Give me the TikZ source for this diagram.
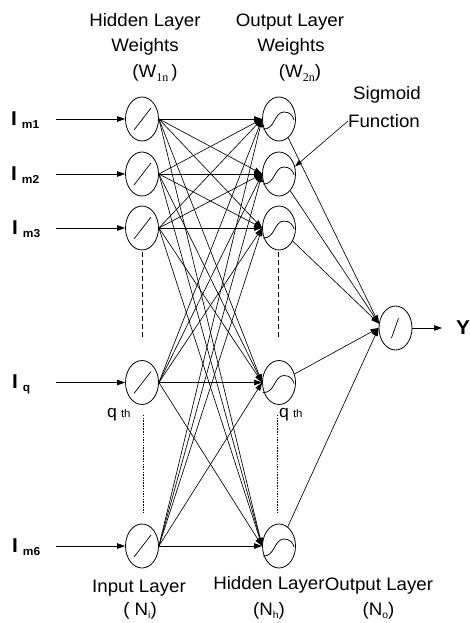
\documentclass[tikz,border=0pt]{standalone}
\usepackage{fontspec}
\setmainfont{Liberation Sans}[FakeStretch=1.04]
\newfontfamily\subserif{Liberation Serif}
\usetikzlibrary{shapes.geometric,arrows.meta}

\tikzset{
  neuron/.style={ellipse,draw,line width=0.8pt,minimum width=33pt,minimum height=44pt,inner sep=0pt},
  link/.style={line width=0.65pt,-{Triangle[length=8pt,width=5.5pt]}},
  lbl/.style={inner sep=0pt,anchor=base,font=\fontsize{18}{18}\selectfont},
  inlbl/.style={inner sep=0pt,anchor=base west},
  upgap/.style={line width=0.6pt,dash pattern=on 5pt off 3pt},
  lowgap/.style={line width=0.45pt,dash pattern=on 1.5pt off 1.2pt},
  inslash/.pic={\draw[line width=0.7pt] (-8,11) -- (9,-11);},
  outslash/.pic={\draw[line width=0.7pt] (-4,10) -- (3,-10);},
  sigmark/.pic={\draw[line width=0.75pt] (-16,10) .. controls (-4,11) and (-5,-7) .. (5,-7) .. controls (11,-7) and (14,-3) .. (15,1);},
}
\newcommand{\inlabel}[1]{{\fontsize{20}{20}\selectfont\bfseries I}\hspace{5pt}\raisebox{-3pt}{\fontsize{11.5}{11.5}\selectfont\bfseries #1}}
\newcommand{\qth}{{\fontsize{17}{17}\selectfont q}\hspace{4pt}{\fontsize{11}{11}\selectfont th}}

\begin{document}
\begin{tikzpicture}[x=1pt,y=-1pt]
\useasboundingbox (0,0) rectangle (470,623);

% neurons of the input and hidden layers
\foreach \n/\y in {1/119,2/174,3/228,q/382.5,6/546}{
  \node[neuron] (i\n) at (142,\y) {};
  \node[neuron] (h\n) at (279,\y) {};
  \pic at (i\n) {inslash};
  \pic at (h\n) {sigmark};
  \coordinate (s\n) at (56,\y);
  \draw[link] (s\n) -- (i\n.west);
}
% output neuron
\node[neuron] (o) at (395.5,328) {};
\pic at (o) {outslash};

% input -> hidden weights
\foreach \a in {1,2,3,q,6}
  \foreach \b in {1,2,3,q,6}
    \draw[link] (i\a.east) -- (h\b.west);

% hidden -> output weights
\foreach \b in {1,2,3}
  \draw[link] (h\b) -- (o.165);
\foreach \b in {q,6}
  \draw[link] (h\b) -- (o.west);

% network output
\node[inner sep=0pt,anchor=base west,font=\fontsize{20}{20}\selectfont\bfseries] (Y) at (456,334) {Y};
\coordinate (yend) at (442,328);
\draw[link] (o.east) -- (yend);

% elided neurons
\draw[upgap] ([yshift=-2pt]i3.south) -- ([yshift=22pt]iq.north);
\draw[upgap] ([xshift=-1pt,yshift=-2pt]h3.south) -- ([xshift=-1pt,yshift=22pt]hq.north);
\draw[lowgap] ([xshift=1pt,yshift=-10pt]iq.south) -- ([xshift=1pt,yshift=11pt]i6.north);
\draw[lowgap] ([xshift=-2pt,yshift=-10pt]hq.south) -- ([xshift=-2pt,yshift=11pt]h6.north);

% input labels
\node[inlbl] (l1) at (11,125) {\inlabel{m1}};
\node[inlbl] (l2) at (11,180) {\inlabel{m2}};
\node[inlbl] (l3) at (12,234) {\inlabel{m3}};
\node[inlbl] (lq) at (12,388) {\inlabel{q}};
\node[inlbl] (l6) at (12,552) {\inlabel{m6}};

% q-th neuron marks
\node[inlbl] (qi) at (107,417) {\qth};
\node[inlbl] (qh) at (279,417) {\qth};

% weight headings
\node[lbl] (hw1) at (145,27) {Hidden Layer};
\node[lbl] (hw2) at (145,52) {Weights};
\node[lbl] (hw3) at (155,77.5) {(W\raisebox{-4pt}{\subserif\fontsize{12}{12}\selectfont 1n}\,)};
\node[lbl] (ow1) at (290,27) {Output Layer};
\node[lbl] (ow2) at (291,52) {Weights};
\node[lbl] (ow3) at (300,77.5) {(W\raisebox{-4pt}{\subserif\fontsize{12}{12}\selectfont 2n})};

% sigmoid callout
\node[lbl] (sig1) at (387,100) {Sigmoid};
\node[lbl] (sigf) at (384,127.5) {Function};
\draw[line width=0.6pt,-{Triangle[length=7pt,width=4.5pt]}] (sigf.west) -- (h2.25);

% layer names
\node[lbl] (li1) at (139,592) {Input Layer};
\node[lbl] (li2) at (140,615) {( N\raisebox{-3pt}{\fontsize{10}{10}\selectfont i})};
\node[lbl] (lh1) at (269,589) {Hidden Layer};
\node[lbl] (lh2) at (269,615) {(N\raisebox{-3pt}{\fontsize{10}{10}\selectfont h})};
\node[lbl] (lo1) at (379,590) {Output Layer};
\node[lbl] (lo2) at (378.5,615) {(N\raisebox{-3pt}{\fontsize{10}{10}\selectfont o})};
\end{tikzpicture}
\end{document}
